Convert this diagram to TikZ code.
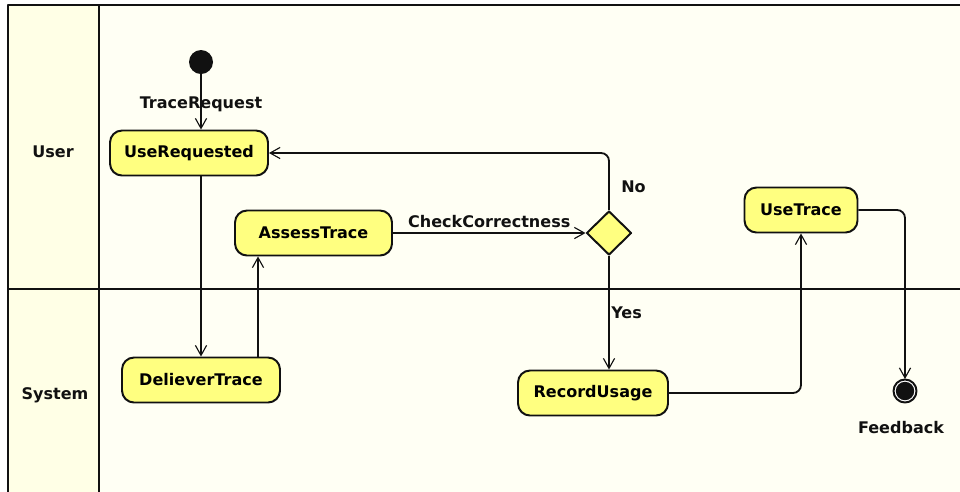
\documentclass[tikz,border=0pt]{standalone}
\usepackage{fontspec}
\setmainfont{DejaVu Sans}
\usetikzlibrary{arrows.meta,positioning,shapes.geometric}
\definecolor{laneback}{HTML}{FFFFF4}
\definecolor{lanehead}{HTML}{FFFFE6}
\definecolor{actfill}{HTML}{FFFF80}
\definecolor{actline}{HTML}{111111}

\begin{document}
\begin{tikzpicture}[x=0.25mm, y=0.25mm, line join=round, font=\fontsize{11.4}{13}\selectfont\bfseries,
  act/.style={draw=actline, fill=actfill, line width=1.4pt, rounded corners=3mm, minimum height=11.25mm, inner sep=0pt},
  flow/.style={actline, line width=1.3pt, rounded corners=2mm, -{Straight Barb[length=2.5mm,width=2.8mm,line width=0.8pt]}},
  lbl/.style={text=actline, inner sep=1pt}]
  \useasboundingbox (0,0) rectangle (960,-491);
  \clip (0,0) rectangle (960,-491);
  % swimlanes
  \fill[laneback] (8,-5) rectangle (970,-500);
  \fill[lanehead] (8,-5) rectangle (99,-500);
  \draw[actline, line width=1.4pt] (970,-5) -- (8,-5) -- (8,-500);
  \draw[actline, line width=1.4pt] (99,-5) -- (99,-500);
  \draw[actline, line width=1.4pt] (8,-289) -- (970,-289);
  \node[lbl] (userlane) at (53,-152) {User};
  \node[lbl] (syslane) at (55,-395) {System};
  % start + end
  \fill[actline] (201,-62) circle (12);
  \coordinate (start) at (201,-74);
  \filldraw[fill=white, draw=actline, line width=1.4pt] (905,-391) circle (11.5);
  \node[circle, fill=actline, minimum size=4.6mm, inner sep=0pt] (finish) at (905,-391) {};
  \node[lbl] (fblabel) at (901,-428) {Feedback};
  % activities
  \node[act, minimum width=39.5mm] (usereq) at (189,-153) {UseRequested};
  \node[act, minimum width=39.5mm] (deliver) at (201,-380) {DelieverTrace};
  \node[act, minimum width=39.25mm] (assess) at (313.5,-233) {AssessTrace};
  \node[act, minimum width=37.5mm] (record) at (593,-393) {RecordUsage};
  \node[act, minimum width=28.25mm] (usetrace) at (801,-210) {UseTrace};
  \node[diamond, draw=actline, fill=actfill, line width=1.4pt, minimum width=11.25mm, minimum height=11mm, inner sep=0pt] (check) at (609,-233) {};
  % transitions
  \draw[flow] (start) -- node[lbl, pos=0.55] {TraceRequest} (start |- usereq.north);
  \draw[flow] (start |- usereq.south) -- (deliver.north);
  \draw[flow] ([xshift=14.25mm]deliver.north) -- ([xshift=14.25mm]deliver.north |- assess.south);
  \draw[flow] (assess) -- node[lbl, above=2pt] {CheckCorrectness} (check);
  \draw[flow] (check.north) |- node[lbl, pos=0.2, anchor=west, xshift=2.5mm] {No} (usereq.east);
  \draw[flow] (check.south) -- node[lbl, anchor=west] {Yes} (check.south |- record.north);
  \draw[flow] (record.east) -| (usetrace.south);
  \draw[flow] (usetrace.east) -| ([yshift=1.8pt]finish.north);
\end{tikzpicture}
\end{document}
